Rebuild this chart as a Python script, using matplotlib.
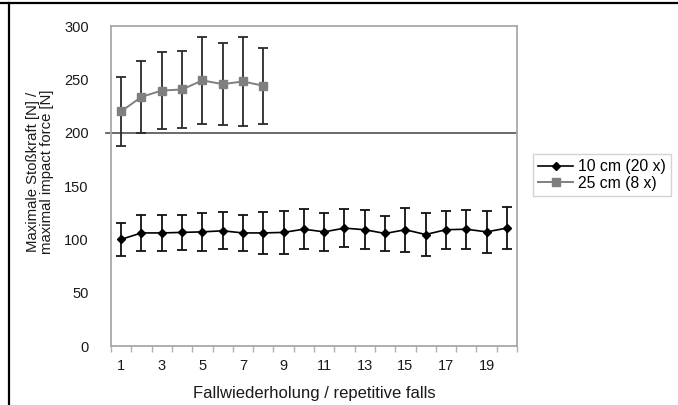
import matplotlib.pyplot as plt
from matplotlib.lines import Line2D
import numpy as np

plt.rcParams['font.family'] = ['Liberation Sans', 'DejaVu Sans']

# Daten
falls_10 = list(range(1, 21))
mean_10 = [100, 106, 106, 106.5, 107, 108, 106, 106, 106.5, 109.5,
           107, 110.5, 109, 105.5, 109, 104.5, 109, 109.5, 107, 110.5]
err_10 = [15.5, 16.5, 17, 16.5, 18, 17.5, 16.5, 19.5, 20, 18.5,
          17.5, 17.5, 18.5, 16.8, 20.5, 20.3, 17.8, 18.3, 19.4, 19.7]

falls_25 = list(range(1, 9))
mean_25 = [220, 233.5, 239.5, 240.5, 249, 245.5, 248, 244]
err_25 = [32.5, 34, 36.5, 36.5, 41, 38.5, 42, 35.5]

xtick_labels = [str(i) for i in range(1, 21, 2)]
series_labels = ['10 cm (20 x)', '25 cm (8 x)']

fig = plt.figure(figsize=(6.78, 4.05), dpi=100)
ax = fig.add_axes([111 / 678, 1 - 346 / 405, 406 / 678, 320 / 405])

ax.errorbar(falls_10, mean_10, yerr=err_10, color='black', marker='D',
            markersize=4.5, linewidth=1.2, ecolor='#111111', elinewidth=1.3,
            capsize=3.5, capthick=1.3, zorder=3)
ax.errorbar(falls_25, mean_25, yerr=err_25, color='#7f7f7f', marker='s',
            markersize=6, linewidth=1.4, ecolor='#2a2a2a', elinewidth=1.3,
            capsize=3.5, capthick=1.3, zorder=3)

# Linie bei 200
ax.axhline(200, xmin=-0.012, xmax=1, color='#505050', linewidth=1.2,
           clip_on=False, zorder=2)

ax.set_xlim(0.5, 20.5)
ax.set_ylim(0, 300)
ax.set_yticks(range(0, 301, 50))
ax.set_xticks(range(1, 21, 2))
ax.set_xticklabels(xtick_labels)
ax.set_xticks(np.arange(0.5, 20.6, 1), minor=True)
ax.tick_params(axis='x', which='major', length=0, pad=9, labelsize=10.5,
               labelcolor='#1a1a1a')
ax.tick_params(axis='x', which='minor', length=4, color='#b0b0b0', width=1)
ax.tick_params(axis='y', length=0, pad=16, labelsize=10.5, labelcolor='#1a1a1a')

for side in ['left', 'right', 'top', 'bottom']:
    ax.spines[side].set_color('#a8a8a8')
    ax.spines[side].set_linewidth(1.3)

ax.set_ylabel('Maximale Stoßkraft [N] /\nmaximal impact force [N]',
              fontsize=10.7, color='#1a1a1a', linespacing=0.95)
ax.yaxis.set_label_coords(-0.141, 0.545)
ax.set_xlabel('Fallwiederholung / repetitive falls', fontsize=12,
              color='#1a1a1a', labelpad=10)

handles = [Line2D([], [], color='black', marker='D', markersize=4.5, linewidth=1.2),
           Line2D([], [], color='#7f7f7f', marker='s', markersize=6, linewidth=1.4)]
leg = ax.legend(handles, series_labels, loc='center left',
                bbox_to_anchor=(1.02, 0.535), fontsize=11.3,
                frameon=True, fancybox=False, edgecolor='#c8c8c8',
                handlelength=2.2, handletextpad=0.3, borderpad=0.35,
                labelspacing=0.1)
leg.get_frame().set_linewidth(1.0)

# äußerer Rahmen
fig.add_artist(Line2D([0, 1], [1 - 3 / 405, 1 - 3 / 405], color='black',
                      linewidth=1.6, transform=fig.transFigure))
fig.add_artist(Line2D([9 / 678, 9 / 678], [0, 1 - 3 / 405], color='black',
                      linewidth=1.6, transform=fig.transFigure))

fig.savefig('out.png', dpi=100)
